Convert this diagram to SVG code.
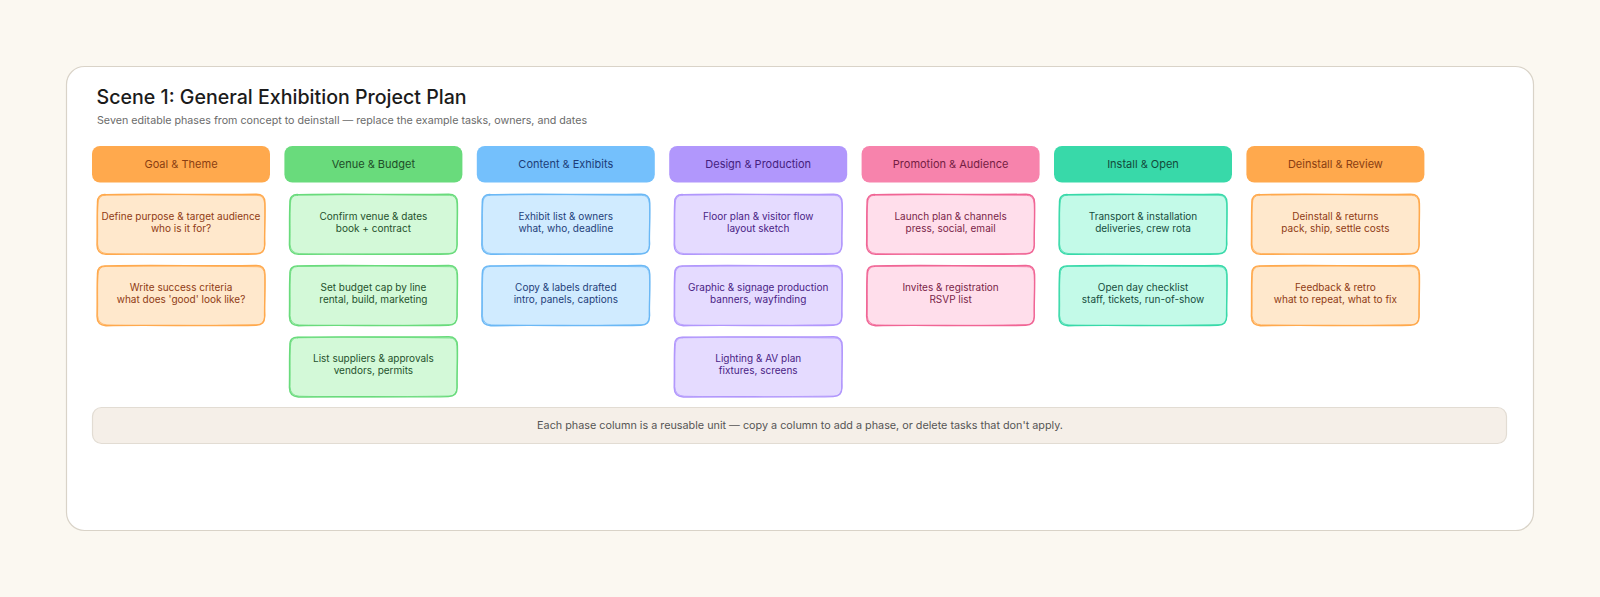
<svg xmlns="http://www.w3.org/2000/svg" xmlns:xlink="http://www.w3.org/1999/xlink" width="1600" height="597" viewBox="0 0 1600 597">
<style>
text{font-family:Inter,"Noto Sans","Liberation Sans",sans-serif}
.title{font-size:19.6px;font-weight:500;fill:#1b1b1b}
.sub{font-size:10.7px;fill:#6b6b6b}
.hd{font-size:11px;text-anchor:middle}
.ct{font-size:10px;text-anchor:middle}
.note{font-size:10.8px;fill:#555;text-anchor:middle}
.r1{fill:none;stroke-width:1.4;stroke-linecap:round}
.r2{fill:none;stroke-width:1;stroke-linecap:round;opacity:.75}
.orange .h{fill:#ffa94d}.orange .hd{fill:#8a3e12}.orange .c{fill:#ffe8cc}.orange use{stroke:#ffa94d}.orange .ct{fill:#8f3b14}
.green .h{fill:#69db7c}.green .hd{fill:#1e4d28}.green .c{fill:#d3f9d8}.green use{stroke:#69db7c}.green .ct{fill:#25522d}
.blue .h{fill:#74c0fc}.blue .hd{fill:#1c3d78}.blue .c{fill:#d0ebff}.blue use{stroke:#6bb8f5}.blue .ct{fill:#1f3f7a}
.violet .h{fill:#b197fc}.violet .hd{fill:#45217e}.violet .c{fill:#e5dbff}.violet use{stroke:#b197fc}.violet .ct{fill:#4a2385}
.pink .h{fill:#f783ac}.pink .hd{fill:#741d43}.pink .c{fill:#ffdeeb}.pink use{stroke:#f06595}.pink .ct{fill:#7a1f48}
.teal .h{fill:#38d9a9}.teal .hd{fill:#124a3b}.teal .c{fill:#c3fae8}.teal use{stroke:#38d9a9}.teal .ct{fill:#164d3e}
</style>
<defs>
<path id="ra" class="r1" d="M9,0.6 C50,-0.4 120,1 159,0.2 Q168,0 168,9 C168.4,25 167.4,38 167.6,51 Q168,60 159,60 C110,61 50,59.4 9,60.4 Q0,60 0,51 C0.4,35 -0.2,22 0.5,9 Q0,0 9,0.6 Z"/>
<path id="rb" class="r2" d="M8,1.2 C60,0.2 110,0.8 160,1.4 Q167.2,1 167.6,10 C168.2,26 167.2,40 168,50 Q167,59.6 160,59.4 C100,60.2 60,60.8 10,59.6 Q1,59.2 0.6,50 C1,36 0.2,22 1,10 Q1,1.2 8,1.2 Z"/>
</defs>
<rect width="1600" height="597" fill="#fbf8f1"/>
<rect x="66.5" y="66.5" width="1467" height="464" rx="18" fill="#fff" stroke="#d9d3c8" stroke-width="1.2"/>
<text class="title" x="96.5" y="104">Scene 1: General Exhibition Project Plan</text>
<text class="sub" x="97" y="123.5">Seven editable phases from concept to deinstall — replace the example tasks, owners, and dates</text>

<g id="phase-goal" class="orange">
<rect class="h" x="92" y="146" width="178" height="36.5" rx="8"/>
<text class="hd" x="181" y="167.5">Goal &amp; Theme</text>
<g id="goal-1"><rect class="c" x="97" y="194" width="168" height="60" rx="9"/><use xlink:href="#ra" x="97" y="194"/><use xlink:href="#rb" x="97" y="194"/>
<text class="ct" x="181" y="219.5">Define purpose &amp; target audience</text><text class="ct" x="181" y="231.5">who is it for?</text></g>
<g id="goal-2"><rect class="c" x="97" y="265.3" width="168" height="60" rx="9"/><use xlink:href="#rb" x="97" y="265.3"/><use xlink:href="#ra" x="97" y="265.3"/>
<text class="ct" x="181" y="290.8">Write success criteria</text><text class="ct" x="181" y="302.8">what does 'good' look like?</text></g>
</g>

<g id="phase-venue" class="green">
<rect class="h" x="284.4" y="146" width="178" height="36.5" rx="8"/>
<text class="hd" x="373.4" y="167.5">Venue &amp; Budget</text>
<g id="venue-1"><rect class="c" x="289.4" y="194" width="168" height="60" rx="9"/><use xlink:href="#ra" x="289.4" y="194"/><use xlink:href="#rb" x="289.4" y="194"/>
<text class="ct" x="373.4" y="219.5">Confirm venue &amp; dates</text><text class="ct" x="373.4" y="231.5">book + contract</text></g>
<g id="venue-2"><rect class="c" x="289.4" y="265.3" width="168" height="60" rx="9"/><use xlink:href="#rb" x="289.4" y="265.3"/><use xlink:href="#ra" x="289.4" y="265.3"/>
<text class="ct" x="373.4" y="290.8">Set budget cap by line</text><text class="ct" x="373.4" y="302.8">rental, build, marketing</text></g>
<g id="venue-3"><rect class="c" x="289.4" y="336.6" width="168" height="60" rx="9"/><use xlink:href="#ra" x="289.4" y="336.6"/><use xlink:href="#rb" x="289.4" y="336.6"/>
<text class="ct" x="373.4" y="362.1">List suppliers &amp; approvals</text><text class="ct" x="373.4" y="374.1">vendors, permits</text></g>
</g>

<g id="phase-content" class="blue">
<rect class="h" x="476.8" y="146" width="178" height="36.5" rx="8"/>
<text class="hd" x="565.8" y="167.5">Content &amp; Exhibits</text>
<g id="content-1"><rect class="c" x="481.8" y="194" width="168" height="60" rx="9"/><use xlink:href="#ra" x="481.8" y="194"/><use xlink:href="#rb" x="481.8" y="194"/>
<text class="ct" x="565.8" y="219.5">Exhibit list &amp; owners</text><text class="ct" x="565.8" y="231.5">what, who, deadline</text></g>
<g id="content-2"><rect class="c" x="481.8" y="265.3" width="168" height="60" rx="9"/><use xlink:href="#rb" x="481.8" y="265.3"/><use xlink:href="#ra" x="481.8" y="265.3"/>
<text class="ct" x="565.8" y="290.8">Copy &amp; labels drafted</text><text class="ct" x="565.8" y="302.8">intro, panels, captions</text></g>
</g>

<g id="phase-design" class="violet">
<rect class="h" x="669.2" y="146" width="178" height="36.5" rx="8"/>
<text class="hd" x="758.2" y="167.5">Design &amp; Production</text>
<g id="design-1"><rect class="c" x="674.2" y="194" width="168" height="60" rx="9"/><use xlink:href="#ra" x="674.2" y="194"/><use xlink:href="#rb" x="674.2" y="194"/>
<text class="ct" x="758.2" y="219.5">Floor plan &amp; visitor flow</text><text class="ct" x="758.2" y="231.5">layout sketch</text></g>
<g id="design-2"><rect class="c" x="674.2" y="265.3" width="168" height="60" rx="9"/><use xlink:href="#rb" x="674.2" y="265.3"/><use xlink:href="#ra" x="674.2" y="265.3"/>
<text class="ct" x="758.2" y="290.8">Graphic &amp; signage production</text><text class="ct" x="758.2" y="302.8">banners, wayfinding</text></g>
<g id="design-3"><rect class="c" x="674.2" y="336.6" width="168" height="60" rx="9"/><use xlink:href="#ra" x="674.2" y="336.6"/><use xlink:href="#rb" x="674.2" y="336.6"/>
<text class="ct" x="758.2" y="362.1">Lighting &amp; AV plan</text><text class="ct" x="758.2" y="374.1">fixtures, screens</text></g>
</g>

<g id="phase-promotion" class="pink">
<rect class="h" x="861.6" y="146" width="178" height="36.5" rx="8"/>
<text class="hd" x="950.6" y="167.5">Promotion &amp; Audience</text>
<g id="promo-1"><rect class="c" x="866.6" y="194" width="168" height="60" rx="9"/><use xlink:href="#ra" x="866.6" y="194"/><use xlink:href="#rb" x="866.6" y="194"/>
<text class="ct" x="950.6" y="219.5">Launch plan &amp; channels</text><text class="ct" x="950.6" y="231.5">press, social, email</text></g>
<g id="promo-2"><rect class="c" x="866.6" y="265.3" width="168" height="60" rx="9"/><use xlink:href="#rb" x="866.6" y="265.3"/><use xlink:href="#ra" x="866.6" y="265.3"/>
<text class="ct" x="950.6" y="290.8">Invites &amp; registration</text><text class="ct" x="950.6" y="302.8">RSVP list</text></g>
</g>

<g id="phase-install" class="teal">
<rect class="h" x="1054" y="146" width="178" height="36.5" rx="8"/>
<text class="hd" x="1143" y="167.5">Install &amp; Open</text>
<g id="install-1"><rect class="c" x="1059" y="194" width="168" height="60" rx="9"/><use xlink:href="#ra" x="1059" y="194"/><use xlink:href="#rb" x="1059" y="194"/>
<text class="ct" x="1143" y="219.5">Transport &amp; installation</text><text class="ct" x="1143" y="231.5">deliveries, crew rota</text></g>
<g id="install-2"><rect class="c" x="1059" y="265.3" width="168" height="60" rx="9"/><use xlink:href="#rb" x="1059" y="265.3"/><use xlink:href="#ra" x="1059" y="265.3"/>
<text class="ct" x="1143" y="290.8">Open day checklist</text><text class="ct" x="1143" y="302.8">staff, tickets, run-of-show</text></g>
</g>

<g id="phase-deinstall" class="orange">
<rect class="h" x="1246.4" y="146" width="178" height="36.5" rx="8"/>
<text class="hd" x="1335.4" y="167.5">Deinstall &amp; Review</text>
<g id="deinstall-1"><rect class="c" x="1251.4" y="194" width="168" height="60" rx="9"/><use xlink:href="#ra" x="1251.4" y="194"/><use xlink:href="#rb" x="1251.4" y="194"/>
<text class="ct" x="1335.4" y="219.5">Deinstall &amp; returns</text><text class="ct" x="1335.4" y="231.5">pack, ship, settle costs</text></g>
<g id="deinstall-2"><rect class="c" x="1251.4" y="265.3" width="168" height="60" rx="9"/><use xlink:href="#rb" x="1251.4" y="265.3"/><use xlink:href="#ra" x="1251.4" y="265.3"/>
<text class="ct" x="1335.4" y="290.8">Feedback &amp; retro</text><text class="ct" x="1335.4" y="302.8">what to repeat, what to fix</text></g>
</g>

<g id="note">
<rect x="92.5" y="407.5" width="1414" height="36" rx="9" fill="#f5efe8" stroke="#e2dcd3" stroke-width="1.2"/>
<text class="note" x="800" y="429.3">Each phase column is a reusable unit — copy a column to add a phase, or delete tasks that don't apply.</text>
</g>
<g id="connectors"/>
</svg>
